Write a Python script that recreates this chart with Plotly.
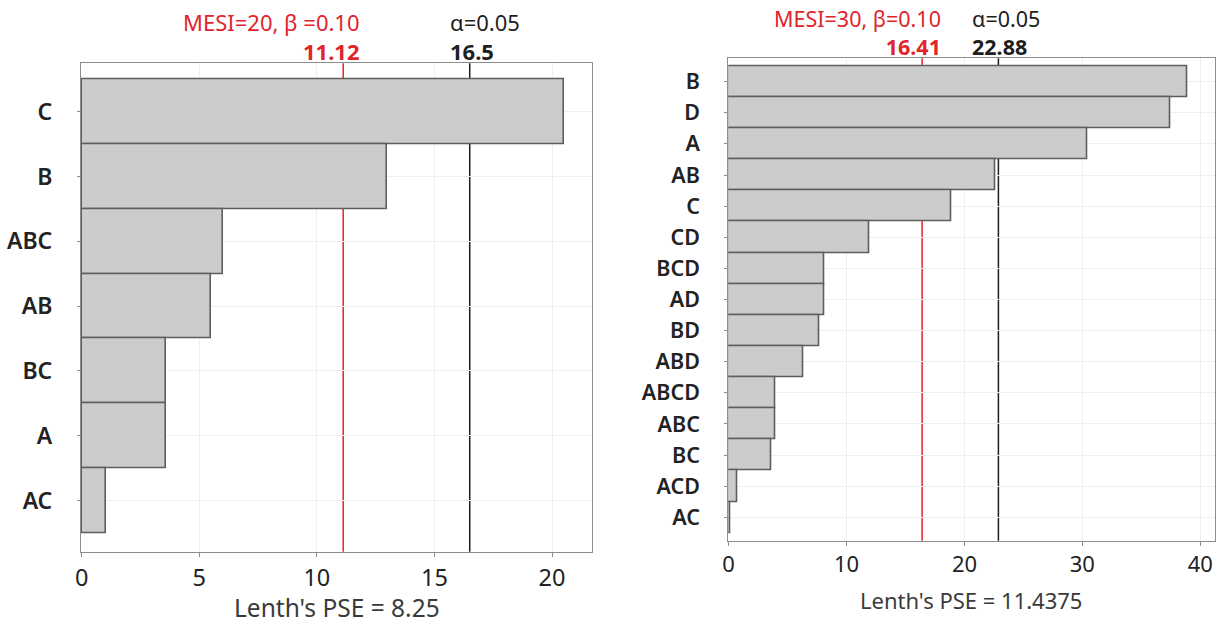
import plotly.graph_objects as go

# Left chart data (top to bottom)
left_terms = ["C", "B", "ABC", "AB", "BC", "A", "AC"]
left_effects = [20.5, 13.0, 6.0, 5.5, 3.57, 3.57, 1.05]
left_me, left_alpha_val = 11.12, 16.5
left_me_label, left_alpha_label = "MESI=20, β =0.10", "α=0.05"
left_pse = "Lenth's PSE = 8.25"
left_ticks = [0, 5, 10, 15, 20]

# Right chart data (top to bottom)
right_terms = ["B", "D", "A", "AB", "C", "CD", "BCD", "AD", "BD", "ABD",
               "ABCD", "ABC", "BC", "ACD", "AC"]
right_effects = [38.9, 37.45, 30.4, 22.6, 18.9, 11.9, 8.1, 8.15, 7.7, 6.35,
                 3.93, 3.93, 3.64, 0.74, 0.15]
right_me, right_alpha_val = 16.41, 22.88
right_me_label, right_alpha_label = "MESI=30, β=0.10", "α=0.05"
right_pse = "Lenth's PSE = 11.4375"
right_ticks = [0, 10, 20, 30, 40]

W, H = 1218, 624
FONT = "Noto Sans"
RED = "#e0242b"
BLACK = "#1e1e1e"
FRAME = "#8c8c8c"
GRID = "#efefef"

fig = go.Figure()

fig.add_trace(go.Bar(x=left_effects, y=left_terms, orientation="h", width=1,
                     marker=dict(color="#cccccc", line=dict(color="#5e5e5e", width=1.6)),
                     xaxis="x", yaxis="y", showlegend=False, hoverinfo="skip"))
fig.add_trace(go.Bar(x=right_effects, y=right_terms, orientation="h", width=1,
                     marker=dict(color="#cccccc", line=dict(color="#5e5e5e", width=1.6)),
                     xaxis="x2", yaxis="y2", showlegend=False, hoverinfo="skip"))

def px_x(p):
    return p / W

def px_y(p):
    return 1 - p / H

ax_common = dict(showline=True, mirror=True, linecolor=FRAME, linewidth=1.2,
                 showgrid=True, gridcolor=GRID, gridwidth=1, zeroline=False,
                 ticks="outside", ticklen=4, tickcolor=FRAME, automargin=False)

nl = len(left_terms)
nr = len(right_terms)

def xf(s):
    return dict(family=FONT, size=s, color="#222222")

def yf(s):
    return dict(family=FONT, size=s, color="#222222", weight=600)

fig.update_layout(
    template="none",
    width=W, height=H,
    margin=dict(l=0, r=0, t=0, b=0, autoexpand=False),
    paper_bgcolor="white", plot_bgcolor="white",
    bargap=0,
    xaxis=dict(domain=[px_x(81), px_x(592)], range=[-0.03, 21.7],
               tickvals=left_ticks, anchor="y", tickfont=xf(23.5),
               ticklabelstandoff=1, **ax_common),
    yaxis=dict(domain=[px_y(551.7), px_y(63.3)], type="category",
               categoryorder="array", categoryarray=left_terms,
               range=[nl - 1 + 0.79, -0.75], anchor="x", tickfont=yf(23),
               ticklabelstandoff=20, **ax_common),
    xaxis2=dict(domain=[px_x(728.3), px_x(1215)], range=[-0.03, 41.25],
                tickvals=right_ticks, anchor="y2", tickfont=xf(22),
                ticklabelstandoff=0, **ax_common),
    yaxis2=dict(domain=[px_y(540.7), px_y(58.3)], type="category",
                categoryorder="array", categoryarray=right_terms,
                range=[nr - 1 + 0.75, -0.75], anchor="x2", tickfont=yf(21.5),
                ticklabelstandoff=20, **ax_common),
)
fig.update_yaxes(ticklen=3)

shapes = []
for xr, yr, xv, col in [("x", "y", left_me, RED), ("x", "y", left_alpha_val, BLACK),
                        ("x2", "y2", right_me, RED), ("x2", "y2", right_alpha_val, BLACK)]:
    shapes.append(dict(type="line", xref=xr, yref=yr + " domain", x0=xv, x1=xv, y0=0, y1=1,
                       line=dict(color=col, width=1.5), layer="below"))
fig.update_layout(shapes=shapes)

ann = []
def add(text, xref, x, xanchor, xshift, ypx, color, size=22):
    ann.append(dict(text=text, xref=xref, x=x, xanchor=xanchor, xshift=xshift,
                    align=xanchor, yref="paper", y=px_y(ypx), yanchor="middle",
                    showarrow=False,
                    font=dict(family=FONT, size=size, color=color)))

add(f"{left_me_label}<br><b>{left_me:.2f}</b>", "x", left_me, "right", 19, 36, RED)
add(f"{left_alpha_label}<br><b>{left_alpha_val:g}</b>", "x", left_alpha_val, "left", -22, 36, BLACK)
add(f"{right_me_label}<br><b>{right_me:.2f}</b>", "x2", right_me, "right", 21, 32, RED, 21.5)
add(f"{right_alpha_label}<br><b>{right_alpha_val:.2f}</b>", "x2", right_alpha_val, "left", -28, 32, BLACK, 21.5)

ann.append(dict(text=left_pse, xref="paper", x=px_x(336.5), xanchor="center",
                yref="paper", y=px_y(607), yanchor="middle", showarrow=False,
                font=dict(family=FONT, size=24.5, color="#3a3a3a")))
ann.append(dict(text=right_pse, xref="paper", x=px_x(971), xanchor="center",
                yref="paper", y=px_y(600), yanchor="middle", showarrow=False,
                font=dict(family=FONT, size=22, color="#3a3a3a")))
fig.update_layout(annotations=ann)

fig.write_html("out.html", config={"displayModeBar": False},
               post_script="document.body.style.margin='0';document.body.style.overflow='hidden';")
